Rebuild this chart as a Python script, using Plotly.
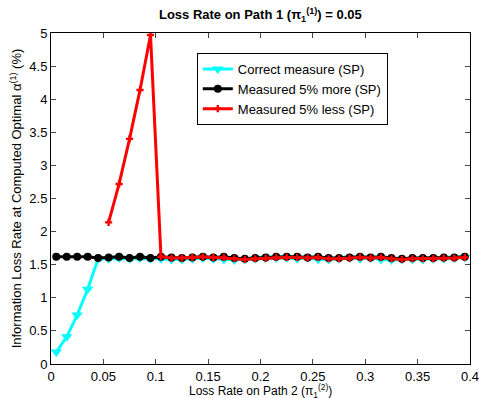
import plotly.graph_objects as go

x_vals = [round(0.005 + 0.01 * k, 3) for k in range(40)]

correct_sp = [0.18, 0.41, 0.74, 1.13, 1.59, 1.59, 1.60, 1.59, 1.60, 1.59,
              1.59, 1.58, 1.58, 1.59, 1.60, 1.59, 1.58, 1.57, 1.58, 1.59,
              1.60, 1.60, 1.60, 1.59, 1.60, 1.58, 1.58, 1.59, 1.60, 1.59,
              1.60, 1.58, 1.57, 1.58, 1.58, 1.58, 1.59, 1.59, 1.60, 1.61]

more_sp = [1.62, 1.62, 1.62, 1.62, 1.60, 1.61, 1.62, 1.60, 1.62, 1.60,
           1.62, 1.61, 1.60, 1.61, 1.62, 1.61, 1.62, 1.60, 1.59, 1.60,
           1.61, 1.62, 1.62, 1.62, 1.61, 1.62, 1.60, 1.60, 1.61, 1.62,
           1.61, 1.62, 1.60, 1.59, 1.60, 1.60, 1.60, 1.61, 1.61, 1.62]

less_sp = [None, None, None, None, None, 2.14, 2.72, 3.40, 4.14, 4.97,
           1.62, 1.60, 1.60, 1.61, 1.62, 1.61, 1.61, 1.59, 1.58, 1.59,
           1.60, 1.61, 1.61, 1.61, 1.60, 1.61, 1.59, 1.59, 1.60, 1.61,
           1.60, 1.61, 1.59, 1.58, 1.59, 1.59, 1.59, 1.60, 1.60, 1.61]

x_title = "Loss Rate on Path 2 (π<sub>1</sub><sup>(2)</sup>)"

fig = go.Figure()
fig.add_trace(go.Scatter(x=x_vals, y=correct_sp, mode="lines+markers",
                         name="Correct measure (SP)",
                         line=dict(color="#00FFFF", width=3),
                         marker=dict(symbol="triangle-down", size=10, color="#00FFFF")))
fig.add_trace(go.Scatter(x=x_vals, y=more_sp, mode="lines+markers",
                         name="Measured 5% more (SP)",
                         line=dict(color="black", width=3),
                         marker=dict(symbol="circle", size=8, color="black")))
fig.add_trace(go.Scatter(x=x_vals, y=less_sp, mode="lines+markers",
                         name="Measured 5% less (SP)",
                         line=dict(color="#FF0000", width=3),
                         marker=dict(symbol="cross", size=6, color="#FF0000"),
                         connectgaps=False))

font = "Liberation Sans, Arial, sans-serif"
fig.update_layout(
    template="none",
    width=479, height=398,
    margin=dict(l=51, r=9, t=33, b=34, autoexpand=False),
    paper_bgcolor="white", plot_bgcolor="white",
    font=dict(family=font, size=13, color="black"),
    title=dict(text="<b>Loss Rate on Path 1 (π<sub>1</sub><sup>(1)</sup>) = 0.05</b>",
               x=0.5435, xanchor="center", y=0.975, yanchor="top",
               font=dict(size=13)),
    showlegend=True,
    legend=dict(x=0.348, y=0.831, xanchor="left", yanchor="middle",
                bgcolor="white", bordercolor="black", borderwidth=1,
                font=dict(size=13), tracegroupgap=0, itemwidth=30),
    xaxis=dict(range=[0, 0.4], dtick=0.05, tick0=0, ticks="inside", ticklen=5,
               showline=True, linecolor="black", linewidth=1, mirror="ticks",
               showgrid=False, zeroline=False, automargin=False,
               ticklabeloverflow="allow", ticklabelstandoff=0,
               tickfont=dict(size=13)),
    yaxis=dict(range=[0, 5], dtick=0.5, tick0=0, ticks="inside", ticklen=5,
               showline=True, linecolor="black", linewidth=1, mirror="ticks",
               showgrid=False, zeroline=False, automargin=False,
               ticklabeloverflow="allow",
               tickfont=dict(size=13),
               title=dict(text="Information Loss Rate at Computed Optimal α<sup>(1)</sup> (%)",
                          standoff=4, font=dict(size=13))),
    annotations=[dict(text=x_title, xref="paper", yref="paper",
                      x=0.5, y=-(380.5 - 364) / 331, xanchor="center", yanchor="top",
                      showarrow=False, font=dict(size=12), borderpad=0)],
)

fig.write_html("out.html")
